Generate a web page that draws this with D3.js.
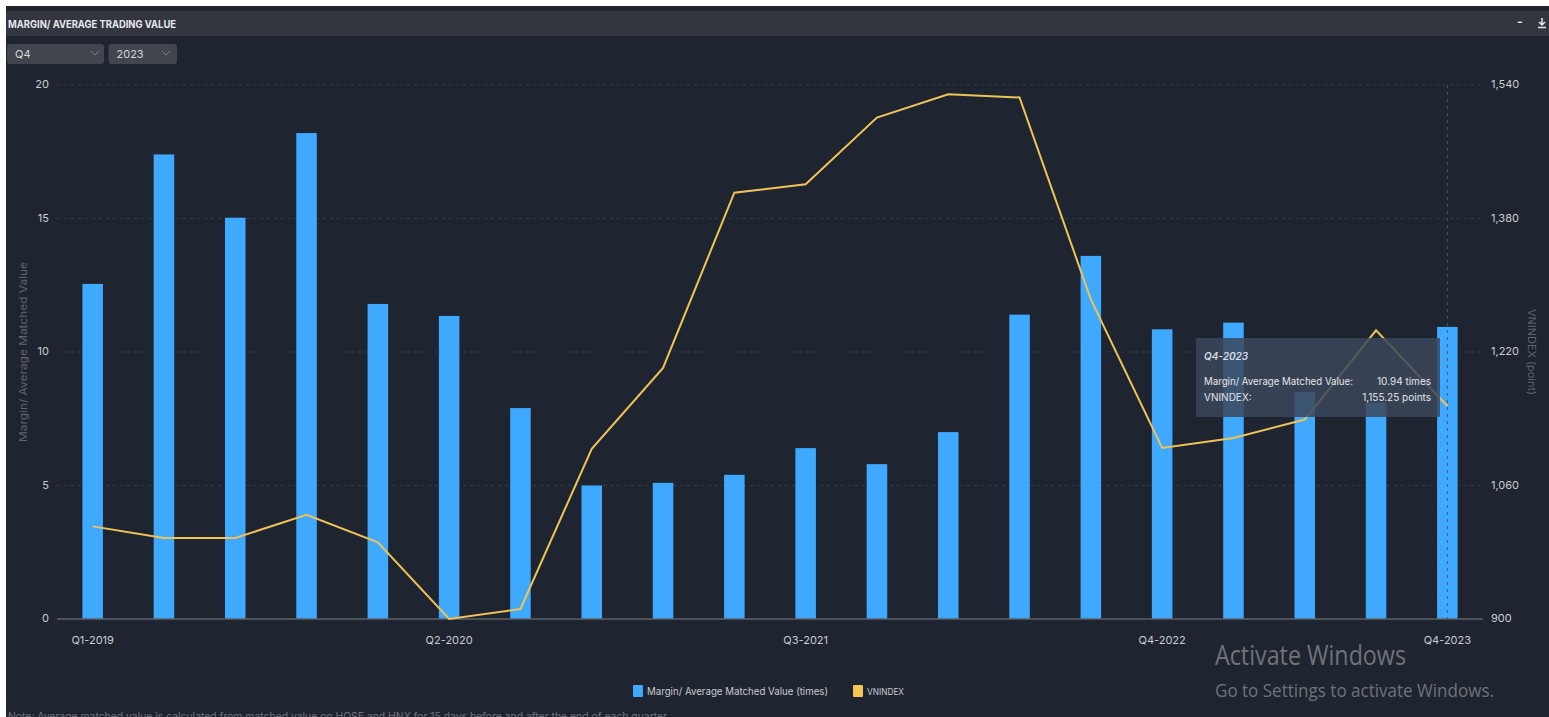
<!DOCTYPE html>
<html><head><meta charset="utf-8">
<script src="https://cdn.jsdelivr.net/npm/d3@7/dist/d3.min.js"></script>
<style>
html,body{margin:0;padding:0;background:#fff;overflow:hidden}
svg{display:block}
text{font-family:Inter,Roboto,"Noto Sans",sans-serif}
</style></head><body>
<svg id="c" width="1549" height="717"></svg>
<script>
const quarters=["Q1-2019","Q2-2019","Q3-2019","Q4-2019","Q1-2020","Q2-2020","Q3-2020","Q4-2020","Q1-2021","Q2-2021","Q3-2021","Q4-2021","Q1-2022","Q2-2022","Q3-2022","Q4-2022","Q1-2023","Q2-2023","Q3-2023","Q4-2023"];
const marginValues=[12.55,17.4,15.03,18.2,11.8,11.35,7.9,5.0,5.1,5.4,6.4,5.8,7.0,11.4,13.6,10.85,11.1,8.5,8.1,10.94];
const vnindex=[1011,997,997,1025,992,900,912,1104,1201,1411,1421,1501,1529,1525,1283,1105,1117,1139,1246,1155.25];
const leftTicks=[0,5,10,15,20];
const rightTicks=[900,1060,1220,1380,1540];
const xTickLabels=["Q1-2019","Q2-2020","Q3-2021","Q4-2022","Q4-2023"];
const legendItems=[["Margin/ Average Matched Value (times)","#3fa9ff"],["VNINDEX","#f5c551"]];

const svg=d3.select("#c");
const x=d3.scaleBand().domain(quarters).range([57,1483]).paddingInner(0.712).paddingOuter(0.356);
const y=d3.scaleLinear().domain([0,20]).range([619,85]);
const y2=d3.scaleLinear().domain([900,1540]).range([619,85]);
const cx=d=>x(d)+x.bandwidth()/2;
const tickCol="#c9ccd1";

// panel
svg.append("rect").attr("x",6).attr("y",6).attr("width",1543).attr("height",711).attr("fill","#1e2530");
svg.append("rect").attr("x",6).attr("y",6).attr("width",1543).attr("height",5).attr("fill","#20242b");
svg.append("rect").attr("x",6).attr("y",11).attr("width",1543).attr("height",25).attr("fill","#33363f");
svg.append("text").attr("x",8).attr("y",28).attr("font-size",10.5).attr("font-weight",700).attr("fill","#e8e9ec")
  .attr("textLength",168).attr("lengthAdjust","spacingAndGlyphs").text("MARGIN/ AVERAGE TRADING VALUE");
svg.append("text").attr("x",1517).attr("y",26).attr("font-size",12).attr("font-weight",700).attr("fill","#e8e9ec").text("-");
const dl=svg.append("g").attr("stroke","#e8e9ec").attr("stroke-width",1.5).attr("fill","none");
dl.append("path").attr("d","M1542 18V25M1539 22L1542 25L1545 22M1538 27.5H1546");

// selects
[[7,97,"Q4",95],[108.5,68.5,"2023",166]].forEach(([sx,w,t,ax])=>{
  svg.append("rect").attr("x",sx).attr("y",44).attr("width",w).attr("height",20).attr("rx",3).attr("fill","#42454e");
  svg.append("text").attr("x",sx+8).attr("y",58).attr("font-size",11).attr("fill","#d4d6da").text(t);
  svg.append("path").attr("d",`M${ax-4} 51L${ax} 55L${ax+4} 51`).attr("fill","none").attr("stroke","#7c7f87").attr("stroke-width",1);
});

// gridlines
const grid=svg.append("g");
grid.selectAll("line").data(leftTicks.slice(1)).join("line")
  .attr("x1",57).attr("x2",1483).attr("y1",d=>y(d)).attr("y2",d=>y(d))
  .attr("stroke","#363c46").attr("stroke-width",1).attr("stroke-dasharray","3 4");

// axes
const styleAxis=g=>{g.select(".domain").remove();g.selectAll(".tick line").remove();g.selectAll("text").attr("fill",tickCol).attr("font-size",11);};
svg.append("g").attr("transform","translate(57,-1)").call(d3.axisLeft(y).tickValues(leftTicks).tickSize(0).tickPadding(8)).call(styleAxis);
svg.append("g").attr("transform","translate(1483,-1)").call(d3.axisRight(y2).tickValues(rightTicks).tickSize(0).tickPadding(8).tickFormat(d3.format(","))).call(styleAxis);
svg.append("g").attr("transform","translate(0,619)").call(d3.axisBottom(x).tickValues(xTickLabels).tickSize(0).tickPadding(14)).call(styleAxis)
  .call(g=>g.selectAll("text").attr("dy","1.0em"));

// bars
svg.append("g").selectAll("rect").data(quarters).join("rect")
  .attr("x",d=>x(d)).attr("width",x.bandwidth())
  .attr("y",(d,i)=>y(marginValues[i])).attr("height",(d,i)=>619-y(marginValues[i]))
  .attr("fill","#3fa9ff");

// baseline
svg.append("line").attr("x1",57).attr("x2",1483).attr("y1",619).attr("y2",619).attr("stroke","#5c6068").attr("stroke-width",1.5);

// line
svg.append("path").datum(quarters).attr("fill","none").attr("stroke","#f0c356").attr("stroke-width",2).attr("stroke-linejoin","miter")
  .attr("d",d3.line().x(d=>cx(d)).y((d,i)=>y2(vnindex[i])));

// crosshair
svg.append("line").attr("x1",cx("Q4-2023")).attr("x2",cx("Q4-2023")).attr("y1",85).attr("y2",619)
  .attr("stroke","#4d5662").attr("stroke-width",1).attr("stroke-dasharray","3 4");

// axis titles
svg.append("text").attr("transform","translate(27,352) rotate(-90)").attr("text-anchor","middle").attr("font-size",10.5).attr("fill","#5f646d")
  .attr("textLength",180).attr("lengthAdjust","spacingAndGlyphs").text("Margin/ Average Matched Value");
svg.append("text").attr("transform","translate(1528,352) rotate(90)").attr("text-anchor","middle").attr("font-size",10.5).attr("fill","#5f646d")
  .attr("textLength",86).attr("lengthAdjust","spacingAndGlyphs").text("VNINDEX (point)");

// legend
let lx=[633,853];
legendItems.forEach(([t,c],i)=>{
  svg.append("rect").attr("x",lx[i]).attr("y",685).attr("width",10).attr("height",12).attr("rx",1).attr("fill",c);
  svg.append("text").attr("x",lx[i]+14).attr("y",695).attr("font-size",i?9.5:10).attr("fill","#c9ccd1")
    .attr("textLength",i?37:181).attr("lengthAdjust","spacingAndGlyphs").text(t);
});

// note (clipped by page bottom, as in the reference)
svg.append("text").attr("x",8).attr("y",720).attr("font-size",10.5).attr("fill","#6e737b").attr("textLength",659).attr("lengthAdjust","spacingAndGlyphs")
  .text("Note: Average matched value is calculated from matched value on HOSE and HNX for 15 days before and after the end of each quarter");

// tooltip
svg.append("rect").attr("x",1196).attr("y",338).attr("width",244).attr("height",79).attr("rx",1).attr("fill","#3b465a").attr("fill-opacity",0.85);
svg.append("text").attr("x",1204).attr("y",360).attr("font-size",10).attr("font-style","italic").attr("font-weight",600).attr("fill","#d8dbe0").text("Q4-2023");
svg.append("text").attr("x",1204).attr("y",385).attr("font-size",10).attr("fill","#e4e6ea").attr("textLength",149).attr("lengthAdjust","spacingAndGlyphs").text("Margin/ Average Matched Value:");
svg.append("text").attr("x",1431).attr("y",385).attr("text-anchor","end").attr("font-size",10).attr("fill","#e4e6ea").text(d3.format(".2f")(marginValues[19])+" times");
svg.append("text").attr("x",1204).attr("y",401).attr("font-size",10).attr("fill","#e4e6ea").text("VNINDEX:");
svg.append("text").attr("x",1431).attr("y",401).attr("text-anchor","end").attr("font-size",10).attr("fill","#e4e6ea").text(d3.format(",.2f")(vnindex[19])+" points");

// watermark
svg.append("text").attr("x",1215).attr("y",665).attr("font-size",27).attr("fill","#6f7378").attr("style","font-family:'Open Sans',sans-serif")
  .attr("textLength",191).attr("lengthAdjust","spacingAndGlyphs").text("Activate Windows");
svg.append("text").attr("x",1215).attr("y",697).attr("font-size",18).attr("fill","#6f7378").attr("style","font-family:'Open Sans',sans-serif")
  .attr("textLength",279).attr("lengthAdjust","spacingAndGlyphs").text("Go to Settings to activate Windows.");
</script></body></html>
